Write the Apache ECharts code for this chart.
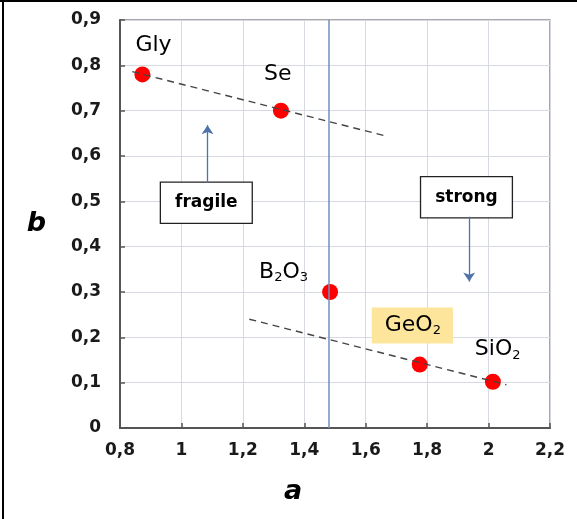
<!DOCTYPE html>
<html><head><meta charset="utf-8">
<script src="https://cdn.jsdelivr.net/npm/echarts@6/dist/echarts.min.js"></script>
<style>html,body{margin:0;padding:0;background:#fff}#c{width:577px;height:519px}</style>
</head><body><div id="c"></div>
<script>
// ---- data ----
const names = ['Gly', 'Se', 'B2O3', 'GeO2', 'SiO2'];
const aValues = [0.873, 1.324, 1.484, 1.776, 2.014];
const bValues = [0.780, 0.700, 0.300, 0.140, 0.102];
const xTickLabels = ['0,8', '1', '1,2', '1,4', '1,6', '1,8', '2', '2,2'];
const yTickLabels = ['0', '0,1', '0,2', '0,3', '0,4', '0,5', '0,6', '0,7', '0,8', '0,9'];
const trend1A = [0.840, 1.672];
const trend1B = [0.786, 0.643];
const trend2A = [1.221, 2.058];
const trend2B = [0.240, 0.0955];
const dividerA = 1.484;
const noteTexts = ['fragile', 'strong'];
const noteA = [1.081, 1.928];
const noteB = [0.497, 0.509];
const arrowA = [1.085, 1.937];
const arrowFromB = [0.541, 0.466];
const arrowToB = [0.668, 0.323];

// ---- styles (label offsets in px) ----
const labelOffsets = [[-7, -29], [-17, -36], [-71, -20], [-48, -39], [-18, -32]];
const FONT = '"DejaVu Sans", sans-serif';

function richName(n) {
  return n.replace(/(\d)/g, '{s|$1}');
}

const pointData = names.map((n, i) => {
  const item = {
    value: [aValues[i], bValues[i]],
    name: n,
    label: {
      show: true,
      position: 'inside',
      align: 'left',
      verticalAlign: 'middle',
      offset: labelOffsets[i],
      formatter: richName(n)
    }
  };
  if (n === 'GeO2') {
    item.label.backgroundColor = '#fde59c';
    item.label.padding = [6, 12, 6, 13];
  }
  return item;
});

const noteData = noteTexts.map((t, i) => ({ value: [noteA[i], noteB[i]], name: t }));
const arrowData = arrowA.map((a, i) => [{ coord: [a, arrowFromB[i]] }, { coord: [a, arrowToB[i]] }]);

const chart = echarts.init(document.getElementById('c'), null, { renderer: 'canvas' });
chart.setOption({
  animation: false,
  backgroundColor: '#fff',
  grid: { left: 120, right: 27, top: 20, bottom: 91, show: true, borderColor: '#8a8a8a', borderWidth: 1.5 },
  xAxis: {
    type: 'value', min: 0.8, max: 2.2, interval: 0.2,
    name: 'a', nameLocation: 'middle', nameGap: 50,
    nameTextStyle: { fontFamily: FONT, fontSize: 27, fontWeight: 'bold', fontStyle: 'italic', color: '#000', padding: [0, 84, 0, 0] },
    axisLine: { show: true, lineStyle: { color: '#555', width: 2 } },
    axisTick: { show: true, inside: true, length: 5, lineStyle: { color: '#555', width: 1.5 } },
    axisLabel: {
      margin: 14, fontFamily: FONT, fontSize: 17, fontWeight: 'bold', color: '#1a1a1a',
      formatter: v => xTickLabels[Math.round((v - 0.8) / 0.2)]
    },
    splitLine: { show: true, lineStyle: { color: '#d6d9df', width: 1 } }
  },
  yAxis: {
    type: 'value', min: 0, max: 0.9, interval: 0.1,
    name: 'b', nameLocation: 'middle', nameGap: 74, nameRotate: 0,
    nameTextStyle: { fontFamily: FONT, fontSize: 27, fontWeight: 'bold', fontStyle: 'italic', color: '#000' },
    axisLine: { show: true, lineStyle: { color: '#555', width: 2 } },
    axisTick: { show: true, inside: true, length: 5, lineStyle: { color: '#555', width: 1.5 } },
    axisLabel: {
      margin: 19, fontFamily: FONT, fontSize: 17, fontWeight: 'bold', color: '#1a1a1a',
      formatter: v => yTickLabels[Math.round(v / 0.1)]
    },
    splitLine: { show: true, lineStyle: { color: '#d6d9df', width: 1 } }
  },
  series: [
    {
      type: 'line', data: trend1A.map((a, i) => [a, trend1B[i]]), showSymbol: false, silent: true,
      lineStyle: { color: '#444', width: 1.4, type: [7, 5] },
      markLine: {
        silent: true, symbol: ['none', 'none'], label: { show: false },
        lineStyle: { color: '#6f8fc4', width: 1.5, type: 'solid' },
        data: [{ xAxis: dividerA }]
      }
    },
    {
      type: 'line', data: trend2A.map((a, i) => [a, trend2B[i]]), showSymbol: false, silent: true,
      lineStyle: { color: '#444', width: 1.4, type: [7, 5] }
    },
    {
      type: 'scatter', data: noteData, symbolSize: 0, silent: true,
      itemStyle: { opacity: 1 },
      label: {
        show: true, position: 'inside', formatter: '{b}',
        fontFamily: FONT, fontSize: 17, fontWeight: 'bold', color: '#000',
        backgroundColor: '#fff', borderColor: '#222', borderWidth: 1.3,
        padding: [10, 14, 10, 14], lineHeight: 20
      },
      markLine: {
        silent: true, symbol: ['none', 'arrow'], symbolSize: 9,
        label: { show: false },
        lineStyle: { color: '#4e72aa', width: 1.3, type: 'solid' },
        data: arrowData
      }
    },
    {
      type: 'scatter', data: pointData, symbol: 'circle', symbolSize: 16, silent: true,
      itemStyle: { color: '#f00', opacity: 1 },
      label: {
        fontFamily: FONT, fontSize: 22, color: '#000', lineHeight: 24,
        rich: { s: { fontFamily: FONT, fontSize: 13, color: '#000', lineHeight: 7, verticalAlign: 'bottom' } }
      }
    }
  ],
  graphic: [
    { type: 'line', shape: { x1: 3, y1: 0, x2: 3, y2: 519 }, style: { stroke: '#000', lineWidth: 2 } },
    { type: 'line', shape: { x1: 0, y1: 1, x2: 577, y2: 1 }, style: { stroke: '#000', lineWidth: 2 } }
  ]
});
</script></body></html>
